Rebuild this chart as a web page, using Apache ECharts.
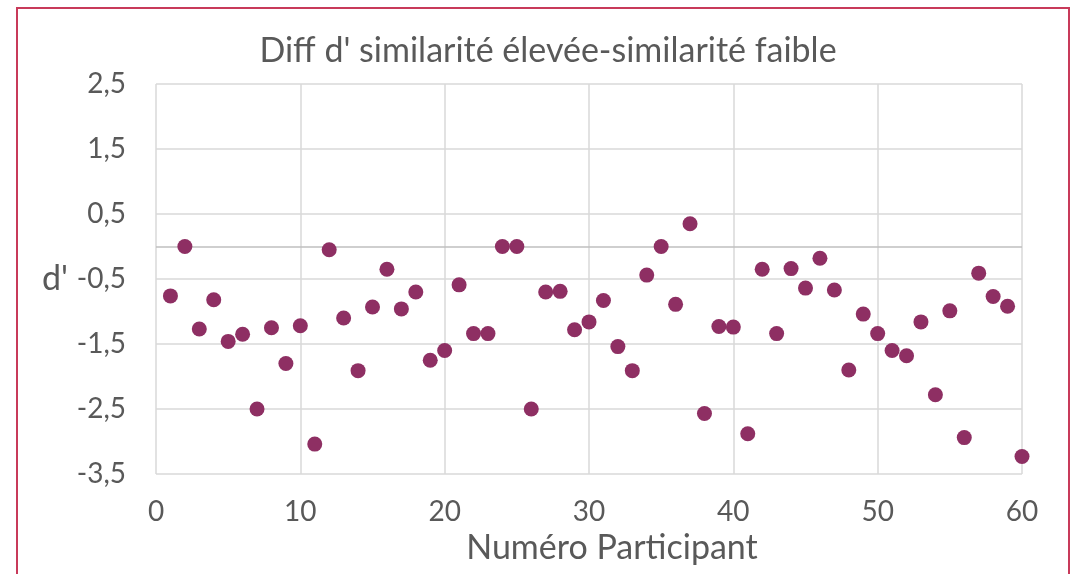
<!DOCTYPE html>
<html>
<head>
<meta charset="utf-8">
<script src="https://cdn.jsdelivr.net/npm/echarts@6/dist/echarts.min.js"></script>
<style>
  html, body { margin: 0; padding: 0; background: #fff; }
  #chart { width: 1073px; height: 574px; }
</style>
</head>
<body>
<div id="chart"></div>
<script>
  // participant numbers 1..60
  const participants = [
    1, 2, 3, 4, 5, 6, 7, 8, 9, 10,
    11, 12, 13, 14, 15, 16, 17, 18, 19, 20,
    21, 22, 23, 24, 25, 26, 27, 28, 29, 30,
    31, 32, 33, 34, 35, 36, 37, 38, 39, 40,
    41, 42, 43, 44, 45, 46, 47, 48, 49, 50,
    51, 52, 53, 54, 55, 56, 57, 58, 59, 60,
  ];
  // d' difference (high similarity - low similarity)
  const diffD = [
    -0.76, 0.0, -1.27, -0.82, -1.46, -1.35, -2.5, -1.25, -1.8, -1.22,
    -3.04, -0.05, -1.1, -1.91, -0.93, -0.35, -0.96, -0.7, -1.75, -1.6,
    -0.59, -1.34, -1.34, 0.0, 0.0, -2.5, -0.7, -0.69, -1.28, -1.16,
    -0.83, -1.54, -1.91, -0.44, 0.0, -0.89, 0.35, -2.57, -1.23, -1.24,
    -2.88, -0.35, -1.34, -0.34, -0.64, -0.18, -0.67, -1.9, -1.04, -1.34,
    -1.6, -1.68, -1.16, -2.28, -0.99, -2.94, -0.41, -0.77, -0.92, -3.23,
  ];

  const textColor = '#595959';
  const font = 'Lato, "Open Sans", sans-serif';

  const chart = echarts.init(document.getElementById('chart'));
  chart.setOption({
    animation: false,
    backgroundColor: '#fff',
    title: {
      text: "Diff d' similarité élevée-similarité faible",
      left: 543,
      top: 29,
      textAlign: 'center',
      textStyle: { fontFamily: font, fontSize: 34, fontWeight: 'normal', color: textColor },
    },
    graphic: [
      {
        type: 'rect',
        shape: { x: 17, y: 8, width: 1052, height: 600 },
        style: { fill: 'none', stroke: '#c83a5a', lineWidth: 2 },
        silent: true,
      },
    ],
    grid: { left: 156, right: 51, top: 84, bottom: 100 },
    xAxis: {
      type: 'value',
      min: 0,
      max: 60,
      interval: 10,
      name: 'Numéro Participant',
      nameLocation: 'middle',
      nameGap: 57,
      nameTextStyle: { fontFamily: font, fontSize: 34, color: textColor, padding: [0, 0, 0, 46] },
      axisLine: { show: false, onZero: false },
      axisTick: { show: false },
      axisLabel: { fontFamily: font, fontSize: 28, color: textColor, margin: 24 },
      splitLine: { show: true, lineStyle: { color: '#d9d9d9', width: 1.5 } },
    },
    yAxis: {
      type: 'value',
      min: -3.5,
      max: 2.5,
      interval: 1,
      name: "d'",
      nameLocation: 'middle',
      nameRotate: 0,
      nameGap: 88,
      nameTextStyle: { fontFamily: font, fontSize: 34, color: textColor, padding: [0, 0, 70, 0] },
      axisLine: { show: false },
      axisTick: { show: false },
      axisLabel: {
        fontFamily: font,
        fontSize: 28,
        color: textColor,
        margin: 30,
        formatter: (v) => String(v).replace('.', ','),
      },
      splitLine: { show: true, lineStyle: { color: '#d9d9d9', width: 1.5 } },
    },
    series: [
      {
        type: 'scatter',
        data: participants.map((p, i) => [p, diffD[i]]),
        symbolSize: 15,
        itemStyle: { color: '#8e2f63', opacity: 1 },
        markLine: {
          silent: true,
          symbol: 'none',
          label: { show: false },
          lineStyle: { color: '#bfbfbf', width: 1.5, type: 'solid' },
          data: [{ yAxis: 0 }],
          z: 1,
        },
        z: 3,
      },
    ],
  });
</script>
</body>
</html>
